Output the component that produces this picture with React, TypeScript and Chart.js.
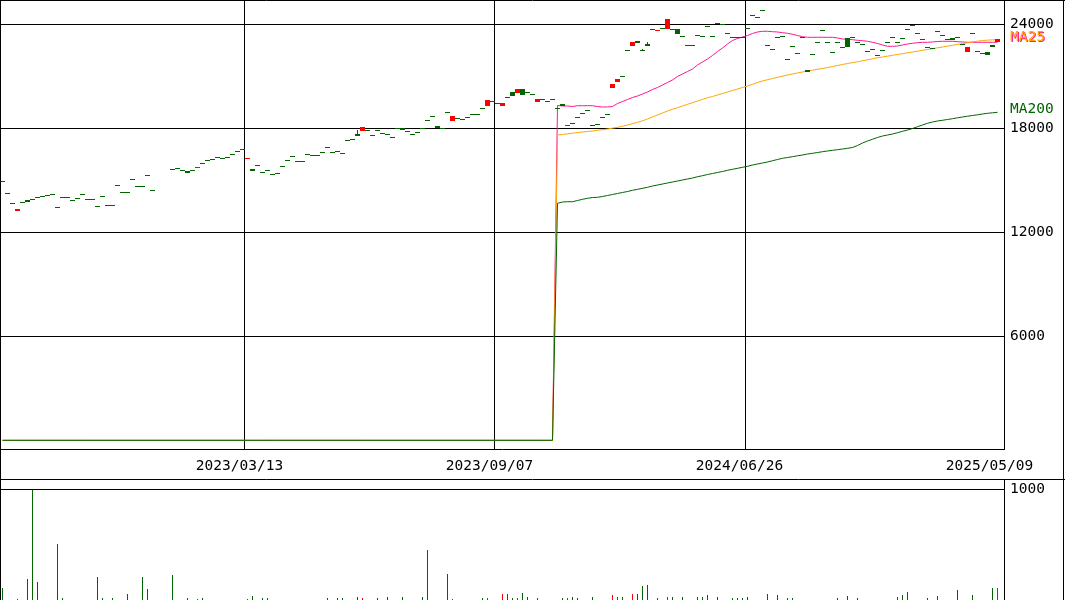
import React, { useEffect, useRef } from "react";
import { Chart, registerables } from "chart.js";

Chart.register(...registerables);

// ---------------- data ----------------
const dateTickSlots = [49, 99, 149, 199];
const dateTickLabels = ["2023/03/13", "2023/09/07", "2024/06/26", "2025/05/09"];
const priceTicks = [6000, 12000, 18000, 24000];
const volumeTicks = [1000];

const opens: (number | null)[] = [
  14980, 14250, 13673, 13250, 13730, 13860, 13903, 14019, 14077, 14134,
  14192, 13442, 14019, 14019, 13846, 13961, 14192, 13903, 13903, 13500,
  14077, 13557, 13557, 14711, 14307, 14307, 15057, 14653, 14653, 15320,
  14423, null, null, null, 15634, 15692, 15576, 15530, 15576, 15730,
  15980, 16153, 16211, 16326, 16269, 16326, 16499, 16672, 16788, 16250,
  15650, 15865, 15461, 15576, 15345, 15403, 15840, 16153, 16401, 16095,
  16113, 16499, 16441, 16441, 16615, 16903, 16615, 16672, 16557, 17307,
  17365, 17680, 17865, 17884, 17596, 17884, 17711, 17653, 17480, 18000,
  17990, 17826, 17653, 17769, 18000, 18461, 18692, 18110, 18000, 18923,
  18403, 18577, 18519, 18634, 18807, 18807, 19153, 19307, 19557, 19442,
  19307, 19788, 20095, 20019, 20249, 20095, 19980, 19538, 19673, 19557,
  19673, 19153, 19420, 18160, 18300, 18634, 18865, 19038, 18173, 18230,
  18634, 18807, 20326, 20691, 21000, 22500, 22768, 23036, 22500, 22884,
  23711, 23630, 23769, 23711, 23711, 23711, 23307, 22788, 22788, 23365,
  23307, 23884, 23307, 24090, 24000, 23480, 23250, 23250, 23250, 23769,
  24519, 24403, 24807, 22788, 22557, 23250, 23307, 21980, 22730, 22326,
  23250, 21340, 22269, 22961, 23653, 22961, 22384, 22961, 22672, 23192,
  23250, 22961, 22846, 22442, 22557, 22211, 22500, 22961, 23250, 22961,
  23192, 23711, 23961, 23480, 23134, 22672, 22615, 23596, 23365, 23134,
  23210, 23250, 22884, 22384, 23480, 22442, 22326, 22384, 22788, 22961,
];

const closes: (number | null)[] = [
  14880, 14250, 13673, 13340, 13730, 13760, 13903, 14019, 14077, 14134,
  14192, 13442, 14019, 14019, 13846, 13961, 14192, 13903, 13903, 13500,
  14077, 13557, 13557, 14711, 14307, 14307, 15057, 14653, 14653, 15220,
  14423, null, null, null, 15634, 15692, 15576, 15430, 15576, 15760,
  15980, 16153, 16211, 16326, 16269, 16326, 16499, 16672, 16788, 16280,
  15550, 15865, 15461, 15576, 15345, 15403, 15740, 16153, 16401, 16095,
  16113, 16499, 16441, 16441, 16615, 16903, 16615, 16672, 16557, 17307,
  17365, 17580, 18095, 17884, 17596, 17884, 17711, 17653, 17480, 18000,
  17890, 17826, 17653, 17769, 18000, 18461, 18692, 18010, 18000, 18923,
  18692, 18577, 18519, 18634, 18807, 18807, 19153, 19615, 19557, 19442,
  19442, 19788, 19880, 20249, 19942, 20095, 19980, 19673, 19673, 19557,
  19673, 19153, 19310, 18190, 18220, 18634, 18865, 19038, 18173, 18230,
  18634, 18807, 20557, 20845, 21000, 22500, 22980, 22940, 22500, 22768,
  23711, 23660, 23769, 24326, 23711, 23430, 23307, 22788, 22788, 23365,
  23307, 23884, 23307, 23990, 24000, 23480, 23250, 23250, 23250, 23769,
  24519, 24403, 24807, 22788, 22557, 23250, 23307, 21980, 22730, 22326,
  23250, 21240, 22269, 22961, 23653, 22961, 22384, 22961, 22672, 22711,
  23250, 22961, 22846, 22442, 22557, 22211, 22500, 22961, 23250, 22961,
  23192, 23711, 23961, 23480, 23134, 22672, 22615, 23596, 23365, 23134,
  23110, 23250, 22884, 22672, 23480, 22442, 22326, 22211, 22672, 23134,
];

const wickSlots = [71, 128, 129];
const wickHighs = [17900, 22580, 22960];
const wickLows = [17580, 22440, 22768];

const volumes = [
  112, 0, 0, 10, 0, 190, 1000, 163, 0, 0,
  0, 507, 21, 0, 0, 0, 0, 0, 0, 208,
  21, 0, 21, 0, 0, 54, 0, 0, 208, 100,
  0, 0, 0, 0, 226, 0, 0, 21, 0, 9,
  21, 0, 0, 0, 0, 0, 0, 0, 0, 12,
  39, 0, 21, 21, 0, 0, 0, 0, 0, 0,
  0, 0, 0, 0, 0, 15, 0, 18, 21, 0,
  0, 30, 21, 0, 0, 21, 0, 24, 0, 0,
  30, 0, 0, 0, 30, 452, 0, 0, 0, 238,
  12, 0, 0, 0, 0, 0, 21, 21, 0, 0,
  57, 54, 21, 21, 63, 27, 0, 15, 0, 0,
  0, 0, 21, 21, 30, 21, 0, 0, 30, 0,
  0, 0, 45, 30, 30, 0, 54, 54, 127, 136,
  0, 21, 0, 30, 30, 0, 30, 0, 0, 30,
  30, 45, 0, 30, 0, 0, 21, 21, 21, 30,
  0, 0, 0, 54, 0, 45, 0, 21, 21, 0,
  0, 0, 0, 0, 0, 0, 0, 21, 0, 39,
  0, 21, 0, 0, 0, 0, 0, 0, 0, 30,
  45, 72, 0, 0, 0, 21, 0, 39, 0, 0,
  0, 90, 0, 0, 45, 0, 0, 0, 109, 109,
];

// moving averages: flat at 0 until slot 110, then values from slot 111
const maFlatSlots = [0, 110];
const maFlatValues = [0, 0];
const maStartSlot = 111;
const ma25 = [
  19315, 19286, 19286, 19257, 19303, 19303, 19303, 19303, 19257, 19228,
  19228, 19257, 19430, 19546, 19661, 19776, 19863, 19978, 20094, 20238,
  20353, 20497, 20641, 20786, 20988, 21132, 21276, 21420, 21651, 21824,
  21997, 22199, 22430, 22632, 22863, 23064, 23180, 23266, 23353, 23468,
  23555, 23595, 23595, 23572, 23555, 23514, 23480, 23422, 23353, 23284,
  23249, 23249, 23249, 23249, 23249, 23249, 23209, 23151, 23134, 23110,
  23076, 23053, 23018, 22961, 22891, 22805, 22730, 22730, 22747, 22805,
  22863, 22903, 22938, 22961, 22961, 22978, 23007, 23018, 23018, 23018,
  22995, 22978, 22961, 22961, 22961, 22961, 22961, 22961, 22961,
];
const ma75 = [
  17613, 17642, 17682, 17717, 17751, 17786, 17815, 17844, 17884, 17919,
  17959, 18005, 18057, 18115, 18190, 18265, 18346, 18432, 18536, 18652,
  18767, 18882, 18998, 19095, 19188, 19286, 19384, 19476, 19574, 19672,
  19759, 19834, 19920, 20007, 20094, 20180, 20267, 20353, 20440, 20538,
  20642, 20728, 20803, 20872, 20941, 21005, 21074, 21132, 21190, 21247,
  21305, 21351, 21403, 21449, 21507, 21564, 21622, 21680, 21737, 21784,
  21836, 21893, 21951, 22009, 22066, 22112, 22159, 22211, 22257, 22303,
  22355, 22401, 22447, 22499, 22545, 22591, 22643, 22690, 22736, 22788,
  22834, 22880, 22932, 22978, 23024, 23064, 23082, 23099, 23111,
];
const ma200 = [
  13673, 13748, 13765, 13765, 13834, 13903, 13961, 14007, 14019, 14065,
  14122, 14180, 14238, 14296, 14353, 14423, 14480, 14538, 14596, 14671,
  14728, 14786, 14844, 14901, 14959, 15017, 15075, 15132, 15207, 15265,
  15334, 15392, 15449, 15507, 15576, 15634, 15692, 15749, 15807, 15882,
  15940, 15997, 16055, 16130, 16199, 16269, 16315, 16361, 16413, 16459,
  16517, 16557, 16603, 16649, 16690, 16730, 16765, 16805, 16845, 16892,
  17007, 17151, 17267, 17365, 17469, 17555, 17613, 17670, 17745, 17826,
  17901, 17988, 18092, 18190, 18288, 18363, 18421, 18461, 18507, 18553,
  18605, 18651, 18697, 18738, 18778, 18824, 18865, 18893, 18922,
];

// ---------------- styling ----------------
const GREEN = "#006400";
const RED = "#ff0000";
const PINK = "#ff1493";
const ORANGE = "#ffa500";
const BLACK = "#000000";
const FONT_FAMILY = "'DejaVu Sans Mono', monospace";
const FONT_SIZE = 14.5;
const X_MAX = 200.8; // plot width in slots (5px per slot)
const AXIS_W = 61;

const isUp = (i: number) =>
  closes[i] != null && opens[i] != null && (closes[i] as number) > (opens[i] as number);

function maPoints(vals: number[]) {
  return [
    ...maFlatSlots.map((s, k) => ({ x: s + 0.5, y: maFlatValues[k] })),
    ...vals.map((v, k) => ({ x: maStartSlot + k + 0.5, y: v })),
  ];
}

const noPad = (s: any) => {
  s.paddingTop = 0;
  s.paddingBottom = 0;
  s.paddingLeft = 0;
  s.paddingRight = 0;
};

// snap bar rectangles to whole pixels for a crisp look
const crispBars = {
  id: "crispBars",
  afterDatasetsUpdate(chart: any) {
    chart.data.datasets.forEach((_: any, i: number) => {
      const meta = chart.getDatasetMeta(i);
      if (meta.type !== "bar") return;
      meta.data.forEach((el: any) => {
        let top = Math.round(Math.min(el.y, el.base));
        let bot = Math.round(Math.max(el.y, el.base));
        if (bot - top < 1) bot = top + 1;
        el.y = top;
        el.base = bot;
      });
    });
  },
};

const framePlugin = (withDateRow: boolean) => ({
  id: "frame" + (withDateRow ? "P" : "V"),
  afterDraw(chart: any) {
    const ctx = chart.ctx;
    const w = chart.width;
    const h = chart.height;
    ctx.save();
    ctx.strokeStyle = BLACK;
    ctx.lineWidth = 1;
    ctx.beginPath();
    ctx.moveTo(0.5, 0);
    ctx.lineTo(0.5, h);
    ctx.moveTo(w - 1.5, 0);
    ctx.lineTo(w - 1.5, h);
    if (withDateRow) {
      ctx.moveTo(0, 0.5);
      ctx.lineTo(w, 0.5);
      ctx.moveTo(0, h - 0.5);
      ctx.lineTo(w, h - 0.5);
    }
    ctx.stroke();
    ctx.restore();
  },
});

const maLabelPlugin = {
  id: "maLabels",
  afterDraw(chart: any) {
    const ys = chart.scales.y;
    const x = chart.chartArea.right + 6;
    const ctx = chart.ctx;
    ctx.save();
    ctx.font = `${FONT_SIZE}px ${FONT_FAMILY}`;
    ctx.textAlign = "left";
    ctx.textBaseline = "middle";
    const y25 = ys.getPixelForValue(ma25[ma25.length - 1]) - 4;
    const y200 = ys.getPixelForValue(ma200[ma200.length - 1]) - 3;
    ctx.fillStyle = PINK;
    ctx.fillText("MA25", x + 1, y25);
    ctx.fillStyle = ORANGE;
    ctx.fillText("MA25", x, y25 - 1);
    ctx.fillStyle = GREEN;
    ctx.fillText("MA200", x, y200);
    ctx.restore();
  },
};

export default function App() {
  const priceRef = useRef<HTMLCanvasElement>(null);
  const volRef = useRef<HTMLCanvasElement>(null);

  useEffect(() => {
    const bodyData: any[] = [];
    closes.forEach((c, i) => {
      const o = opens[i];
      if (c == null || o == null) return;
      bodyData.push({
        x: i + 0.5,
        y: [Math.min(o, c), Math.max(o, c)],
        col: c > o ? RED : GREEN,
      });
    });
    const wickData = wickSlots.map((s, k) => ({
      x: s + 0.5,
      y: [wickLows[k], wickHighs[k]],
      col: isUp(s) ? RED : GREEN,
    }));
    const volData: any[] = [];
    volumes.forEach((v, i) => {
      if (v > 0) volData.push({ x: i + 0.5, y: v, col: isUp(i) ? RED : GREEN });
    });

    const tickFont = { family: FONT_FAMILY, size: FONT_SIZE };

    const price = new Chart(priceRef.current as HTMLCanvasElement, {
      type: "bar",
      data: {
        datasets: [
          {
            type: "bar",
            data: bodyData,
            backgroundColor: (c: any) => (c.raw ? c.raw.col : GREEN),
            barThickness: 5,
            minBarLength: 1,
            grouped: false,
            borderWidth: 0,
            inflateAmount: 0,
            order: 0,
          } as any,
          {
            type: "bar",
            data: wickData,
            backgroundColor: (c: any) => (c.raw ? c.raw.col : GREEN),
            barThickness: 1,
            grouped: false,
            borderWidth: 0,
            inflateAmount: 0,
            order: 1,
          } as any,
          {
            type: "line",
            data: maPoints(ma200),
            borderColor: GREEN,
            borderWidth: 1,
            pointRadius: 0,
            tension: 0,
            fill: false,
            order: 2,
          } as any,
          {
            type: "line",
            data: maPoints(ma75),
            borderColor: ORANGE,
            borderWidth: 1,
            pointRadius: 0,
            tension: 0,
            fill: false,
            order: 3,
          } as any,
          {
            type: "line",
            data: maPoints(ma25),
            borderColor: PINK,
            borderWidth: 1,
            pointRadius: 0,
            tension: 0,
            fill: false,
            order: 4,
          } as any,
        ],
      },
      options: {
        responsive: false,
        maintainAspectRatio: false,
        devicePixelRatio: 1,
        animation: false,
        events: [],
        layout: { padding: 0 },
        plugins: { legend: { display: false }, tooltip: { enabled: false } },
        scales: {
          x: {
            type: "linear",
            position: "bottom",
            min: 0,
            max: X_MAX,
            offset: false,
            grid: {
              offset: false,
              drawTicks: false,
              lineWidth: 1,
              color: (c: any) => (c.index < dateTickSlots.length - 1 ? BLACK : "rgba(0,0,0,0)"),
            },
            border: { display: true, color: BLACK, width: 1 },
            ticks: {
              autoSkip: false,
              maxRotation: 0,
              minRotation: 0,
              padding: 9,
              labelOffset: -5.5,
              color: BLACK,
              font: tickFont,
              callback: (v: any) => {
                const k = dateTickSlots.indexOf(Number(v));
                return k >= 0 ? dateTickLabels[k] : "";
              },
            },
            afterBuildTicks: (s: any) => {
              s.ticks = dateTickSlots.map((v) => ({ value: v }));
            },
            afterFit: (s: any) => {
              s.height = 31;
              noPad(s);
            },
          } as any,
          y: {
            type: "linear",
            position: "right",
            min: -500,
            max: 25400,
            grid: { drawTicks: false, color: BLACK, lineWidth: 1 },
            border: { display: true, color: BLACK, width: 1 },
            ticks: {
              padding: 6,
              color: BLACK,
              font: tickFont,
              callback: (v: any) => String(v),
            },
            afterBuildTicks: (s: any) => {
              s.ticks = priceTicks.map((v) => ({ value: v }));
            },
            afterFit: (s: any) => {
              s.width = AXIS_W;
              noPad(s);
            },
          } as any,
        },
      } as any,
      plugins: [crispBars, framePlugin(true), maLabelPlugin],
    });

    const vol = new Chart(volRef.current as HTMLCanvasElement, {
      type: "bar",
      data: {
        datasets: [
          {
            data: volData,
            backgroundColor: (c: any) => (c.raw ? c.raw.col : GREEN),
            barThickness: 1,
            grouped: false,
            borderWidth: 0,
            inflateAmount: 0,
          } as any,
        ],
      },
      options: {
        responsive: false,
        maintainAspectRatio: false,
        devicePixelRatio: 1,
        animation: false,
        events: [],
        layout: { padding: 0 },
        plugins: { legend: { display: false }, tooltip: { enabled: false } },
        scales: {
          x: {
            type: "linear",
            min: 0,
            max: X_MAX,
            offset: false,
            display: false,
          },
          y: {
            type: "linear",
            position: "right",
            min: 0,
            max: 1086,
            grid: { drawTicks: false, color: BLACK, lineWidth: 1 },
            border: { display: true, color: BLACK, width: 1 },
            ticks: {
              padding: 6,
              color: BLACK,
              font: tickFont,
              callback: (v: any) => String(v),
            },
            afterBuildTicks: (s: any) => {
              s.ticks = volumeTicks.map((v) => ({ value: v }));
            },
            afterFit: (s: any) => {
              s.width = AXIS_W;
              noPad(s);
            },
          } as any,
        },
      } as any,
      plugins: [crispBars, framePlugin(false)],
    });

    return () => {
      price.destroy();
      vol.destroy();
    };
  }, []);

  return (
    <div
      style={{
        position: "absolute",
        left: 0,
        top: 0,
        width: 1065,
        height: 600,
        background: "#ffffff",
        overflow: "hidden",
      }}
    >
      <canvas
        ref={priceRef}
        width={1065}
        height={480}
        style={{ position: "absolute", left: 0, top: 0, width: 1065, height: 480 }}
      />
      <canvas
        ref={volRef}
        width={1065}
        height={120}
        style={{ position: "absolute", left: 0, top: 480, width: 1065, height: 120 }}
      />
    </div>
  );
}
